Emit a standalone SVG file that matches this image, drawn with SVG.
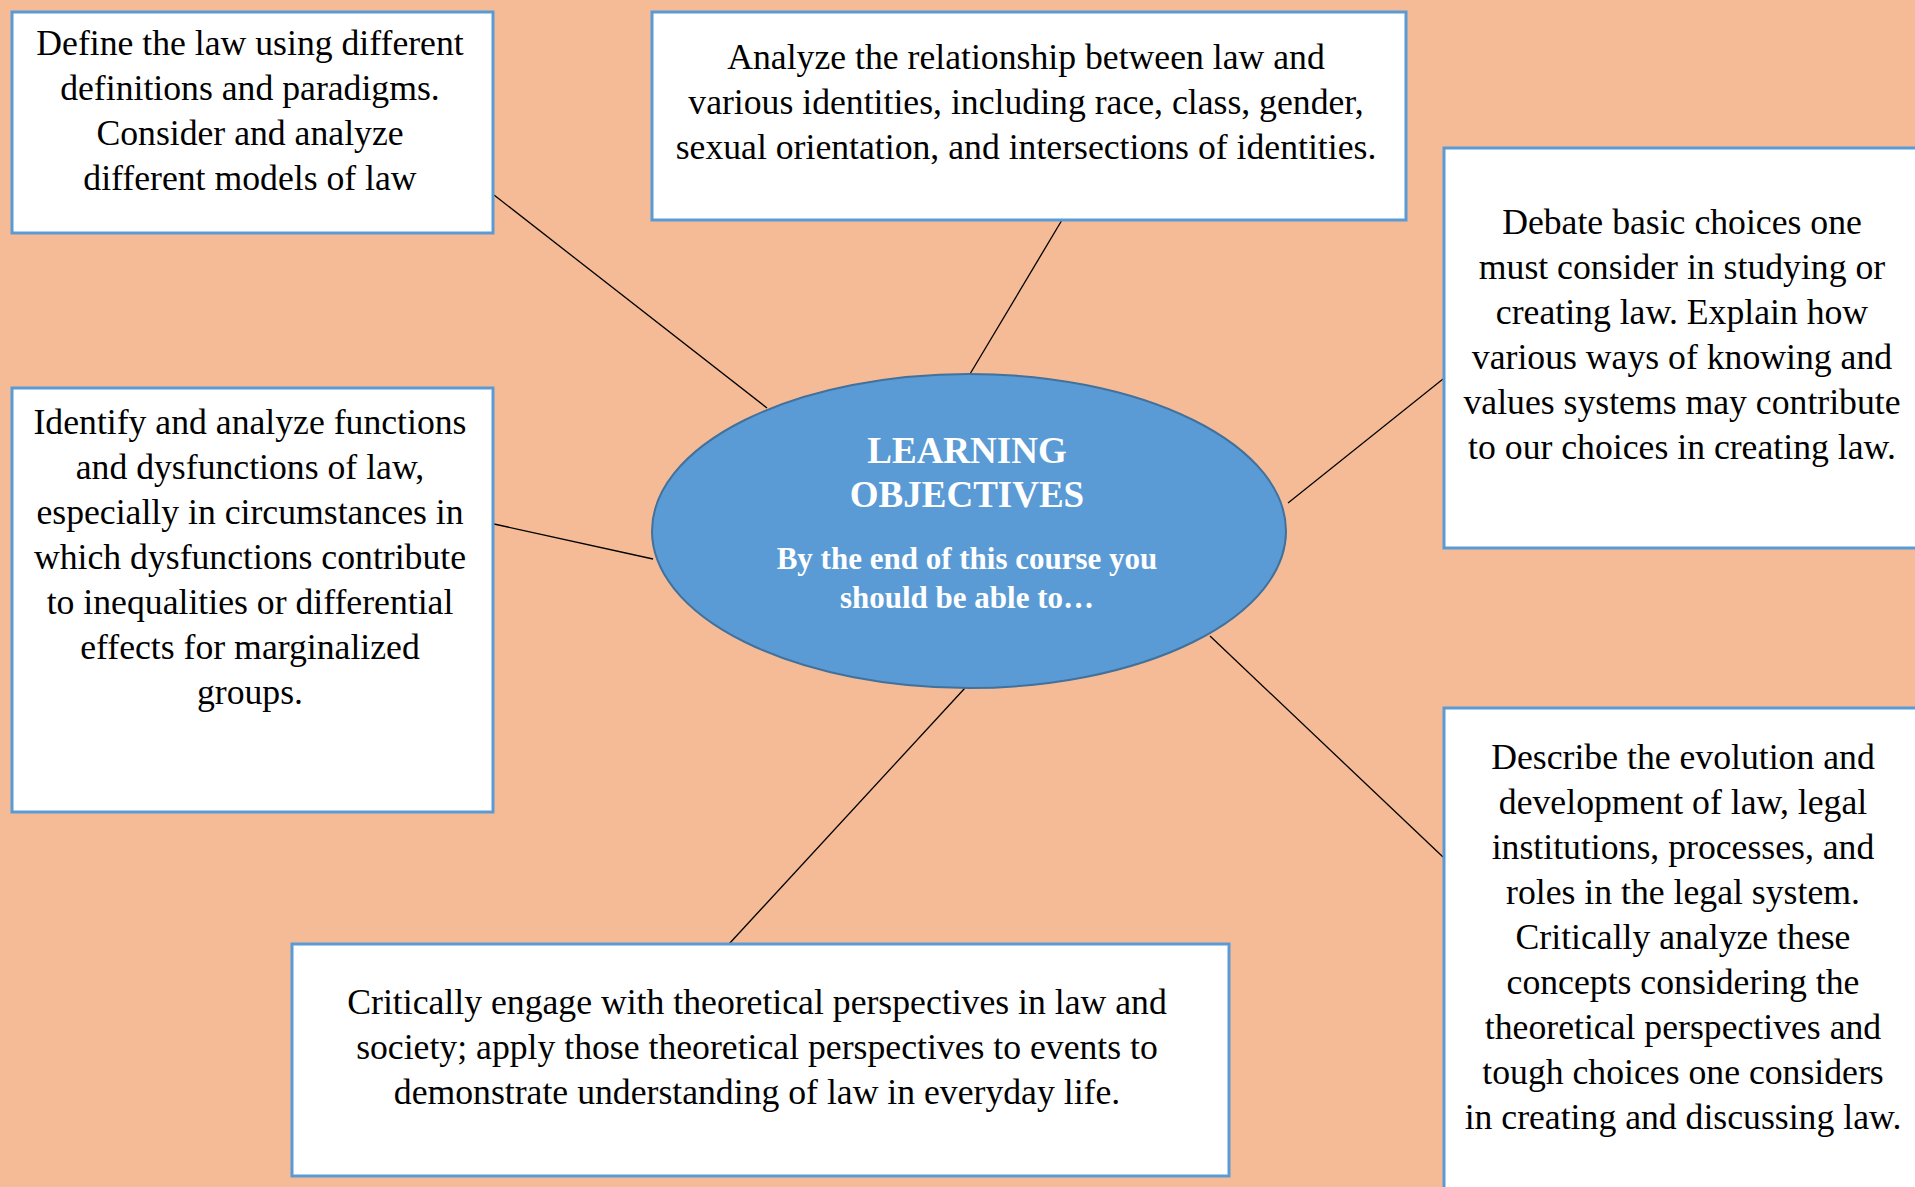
<svg xmlns="http://www.w3.org/2000/svg" width="1915" height="1187" viewBox="0 0 1915 1187">
<style>
.bg{fill:#F5BB96}
.box{fill:#FFFFFF;stroke:#5B9BD5;stroke-width:3}
.t{font-family:"Liberation Serif","Times New Roman",serif;font-size:35.7px;fill:#000;text-anchor:middle}
.h{font-family:"Liberation Serif","Times New Roman",serif;font-weight:bold;fill:#FFFFFF;text-anchor:middle}
.conn line{stroke:#000;stroke-width:1.3}
</style>
<rect class="bg" x="0" y="0" width="1915" height="1187"/>
<g id="connectors" class="conn">
<line x1="494" y1="195" x2="767" y2="408"/>
<line x1="1062" y1="220" x2="970" y2="374"/>
<line x1="1443" y1="379" x2="1288" y2="503"/>
<line x1="494" y1="524" x2="653" y2="559"/>
<line x1="1210" y1="636" x2="1443" y2="857"/>
<line x1="965" y1="688" x2="729" y2="944"/>
</g>
<g id="center">
<ellipse cx="969" cy="531" rx="317" ry="157" fill="#5B9BD5" stroke="#41719C" stroke-width="2"/>
<text class="h" x="967" y="463" font-size="37">LEARNING</text>
<text class="h" x="967" y="507" font-size="37">OBJECTIVES</text>
<text class="h" x="967" y="569" font-size="31">By the end of this course you</text>
<text class="h" x="967" y="608" font-size="31">should be able to…</text>
</g>
<g id="node-define">
<rect class="box" x="12" y="12" width="481" height="221"/>
<text class="t" x="250" y="54.5">Define the law using different</text>
<text class="t" x="250" y="99.5">definitions and paradigms.</text>
<text class="t" x="250" y="144.5">Consider and analyze</text>
<text class="t" x="250" y="189.5">different models of law</text>
</g>
<g id="node-identities">
<rect class="box" x="652" y="12" width="754" height="208"/>
<text class="t" x="1026" y="68.5">Analyze the relationship between law and</text>
<text class="t" x="1026" y="113.5">various identities, including race, class, gender,</text>
<text class="t" x="1026" y="158.5">sexual orientation, and intersections of identities.</text>
</g>
<g id="node-debate">
<rect class="box" x="1444" y="148" width="480" height="400"/>
<text class="t" x="1682" y="233.5">Debate basic choices one</text>
<text class="t" x="1682" y="278.5">must consider in studying or</text>
<text class="t" x="1682" y="323.5">creating law. Explain how</text>
<text class="t" x="1682" y="368.5">various ways of knowing and</text>
<text class="t" x="1682" y="413.5">values systems may contribute</text>
<text class="t" x="1682" y="458.5">to our choices in creating law.</text>
</g>
<g id="node-functions">
<rect class="box" x="12" y="388" width="481" height="424"/>
<text class="t" x="250" y="433.5">Identify and analyze functions</text>
<text class="t" x="250" y="478.5">and dysfunctions of law,</text>
<text class="t" x="250" y="523.5">especially in circumstances in</text>
<text class="t" x="250" y="568.5">which dysfunctions contribute</text>
<text class="t" x="250" y="613.5">to inequalities or differential</text>
<text class="t" x="250" y="658.5">effects for marginalized</text>
<text class="t" x="250" y="703.5">groups.</text>
</g>
<g id="node-evolution">
<rect class="box" x="1444" y="708" width="480" height="490"/>
<text class="t" x="1683" y="768.5">Describe the evolution and</text>
<text class="t" x="1683" y="813.5">development of law, legal</text>
<text class="t" x="1683" y="858.5">institutions, processes, and</text>
<text class="t" x="1683" y="903.5">roles in the legal system.</text>
<text class="t" x="1683" y="948.5">Critically analyze these</text>
<text class="t" x="1683" y="993.5">concepts considering the</text>
<text class="t" x="1683" y="1038.5">theoretical perspectives and</text>
<text class="t" x="1683" y="1083.5">tough choices one considers</text>
<text class="t" x="1683" y="1128.5">in creating and discussing law.</text>
</g>
<g id="node-theory">
<rect class="box" x="292" y="944" width="937" height="232"/>
<text class="t" x="757" y="1013.5">Critically engage with theoretical perspectives in law and</text>
<text class="t" x="757" y="1058.5">society; apply those theoretical perspectives to events to</text>
<text class="t" x="757" y="1103.5">demonstrate understanding of law in everyday life.</text>
</g>
</svg>
